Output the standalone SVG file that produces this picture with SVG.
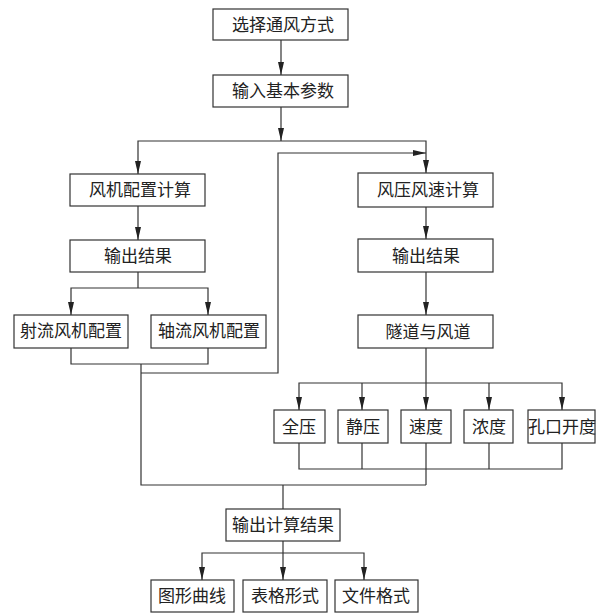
<svg xmlns="http://www.w3.org/2000/svg" width="602" height="613" viewBox="0 0 602 613">
<style>
.b{fill:#fff;stroke:#333;stroke-width:1.2}
.t{font-family:"Noto Sans CJK SC","Liberation Serif",serif;font-size:17px;fill:#222;text-anchor:middle}
.c{fill:none;stroke:#333;stroke-width:1.2}
</style>
<defs>
<marker id="a" markerUnits="userSpaceOnUse" markerWidth="14" markerHeight="7" refX="13" refY="3" orient="auto">
<path d="M0,0 L13,3 L0,6 z" fill="#222"/>
</marker>
</defs>
<rect width="602" height="613" fill="#fff"/>
<g id="connectors">
<path class="c" d="M281,40 V75" marker-end="url(#a)"/>
<path class="c" d="M281,107 V141" marker-end="url(#a)"/>
<path class="c" d="M281,141 H138 V174" marker-end="url(#a)"/>
<path class="c" d="M281,141 H426 V173" marker-end="url(#a)"/>
<path class="c" d="M141,373 H278 V153 H426" marker-end="url(#a)"/>
<path class="c" d="M138,206 V240" marker-end="url(#a)"/>
<path class="c" d="M138,272 V288"/>
<path class="c" d="M138,288 H71 V315" marker-end="url(#a)"/>
<path class="c" d="M138,288 H208 V315" marker-end="url(#a)"/>
<path class="c" d="M71,348 V364 H208 V348"/>
<path class="c" d="M141,364 V485 H426"/>
<path class="c" d="M426,207 V239" marker-end="url(#a)"/>
<path class="c" d="M426,272 V315" marker-end="url(#a)"/>
<path class="c" d="M426,348 V383"/>
<path class="c" d="M426,383 H299 V410" marker-end="url(#a)"/>
<path class="c" d="M426,383 H562 V410" marker-end="url(#a)"/>
<path class="c" d="M362,383 V410" marker-end="url(#a)"/>
<path class="c" d="M426,383 V410" marker-end="url(#a)"/>
<path class="c" d="M489,383 V410" marker-end="url(#a)"/>
<path class="c" d="M299,443 V469 H562 V443"/>
<path class="c" d="M362,443 V469"/>
<path class="c" d="M489,443 V469"/>
<path class="c" d="M426,443 V485"/>
<path class="c" d="M283,485 V509"/>
<path class="c" d="M283,541 V553"/>
<path class="c" d="M283,553 H202 V580" marker-end="url(#a)"/>
<path class="c" d="M283,553 H364 V580" marker-end="url(#a)"/>
<path class="c" d="M283,553 V580" marker-end="url(#a)"/>
</g>
<g id="n1"><rect class="b" x="213" y="9" width="135" height="31"/><text class="t" x="283" y="31">选择通风方式</text></g>
<g id="n2"><rect class="b" x="213" y="75" width="135" height="32"/><text class="t" x="283" y="97">输入基本参数</text></g>
<g id="n3"><rect class="b" x="70" y="174" width="135" height="32"/><text class="t" x="140" y="196">风机配置计算</text></g>
<g id="n4"><rect class="b" x="70" y="240" width="135" height="32"/><text class="t" x="138" y="262">输出结果</text></g>
<g id="n5"><rect class="b" x="14" y="315" width="114" height="33"/><text class="t" x="71" y="337">射流风机配置</text></g>
<g id="n6"><rect class="b" x="151" y="315" width="115" height="33"/><text class="t" x="209" y="337">轴流风机配置</text></g>
<g id="n7"><rect class="b" x="358" y="173" width="135" height="34"/><text class="t" x="428" y="196">风压风速计算</text></g>
<g id="n8"><rect class="b" x="358" y="239" width="135" height="33"/><text class="t" x="426" y="262">输出结果</text></g>
<g id="n9"><rect class="b" x="358" y="315" width="135" height="33"/><text class="t" x="428" y="338">隧道与风道</text></g>
<g id="n10"><rect class="b" x="274" y="410" width="51" height="33"/><text class="t" x="299" y="433">全压</text></g>
<g id="n11"><rect class="b" x="338" y="410" width="50" height="33"/><text class="t" x="363" y="433">静压</text></g>
<g id="n12"><rect class="b" x="401" y="410" width="50" height="33"/><text class="t" x="426" y="433">速度</text></g>
<g id="n13"><rect class="b" x="464" y="410" width="49" height="33"/><text class="t" x="489" y="433">浓度</text></g>
<g id="n14"><rect class="b" x="528" y="410" width="67" height="33"/><text class="t" x="562" y="433">孔口开度</text></g>
<g id="n15"><rect class="b" x="226" y="509" width="114" height="32"/><text class="t" x="283" y="531">输出计算结果</text></g>
<g id="n16"><rect class="b" x="151" y="580" width="83" height="32"/><text class="t" x="192" y="602">图形曲线</text></g>
<g id="n17"><rect class="b" x="243" y="580" width="84" height="32"/><text class="t" x="285" y="602">表格形式</text></g>
<g id="n18"><rect class="b" x="335" y="580" width="83" height="32"/><text class="t" x="376" y="602">文件格式</text></g>
</svg>
